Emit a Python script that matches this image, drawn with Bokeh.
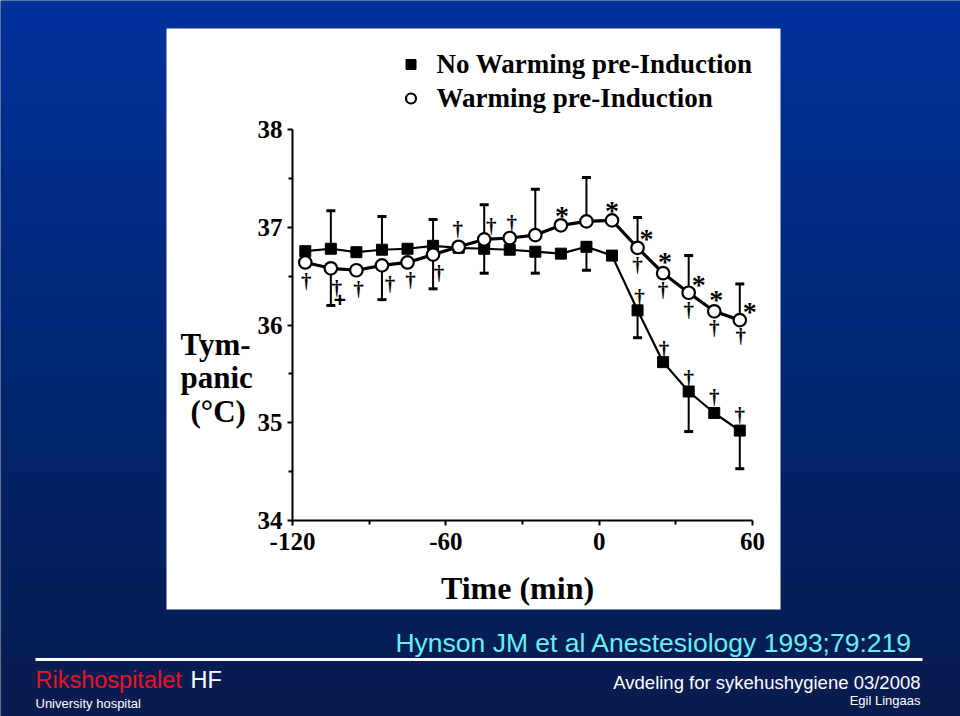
import numpy as np
from bokeh.plotting import figure
from bokeh.models import Range1d, FixedTicker, Legend, LegendItem, ColumnDataSource
from bokeh.core.properties import value
from bokeh.embed import file_html
from bokeh.resources import INLINE

# ---------------- data ----------------
times = [-115, -105, -95, -85, -75, -65, -55, -45, -35, -25, -15, -5, 5, 15, 25, 35, 45, 55]
no_warming = [36.755, 36.78, 36.745, 36.77, 36.78, 36.81, 36.79, 36.78, 36.77, 36.75,
              36.73, 36.80, 36.71, 36.15, 35.62, 35.32, 35.10, 34.92]
warming = [36.64, 36.58, 36.56, 36.61, 36.64, 36.72, 36.80, 36.875, 36.89, 36.92,
           37.02, 37.06, 37.07, 36.79, 36.53, 36.33, 36.14, 36.05]
err_index = [1, 3, 5, 7, 9, 11, 13, 15, 17]
no_warming_err_end = [37.17, 37.11, 37.08, 36.53, 36.53, 36.56, 35.87, 34.91, 34.53]
warming_err_end = [36.20, 36.26, 36.37, 37.23, 37.39, 37.51, 37.10, 36.71, 36.42]

x_ticks = [-120, -60, 0, 60]
x_minor = [-90, -30, 30]
y_ticks = [34, 35, 36, 37, 38]
y_minor = [34.5, 35.5, 36.5, 37.5]

series_names = ["No Warming pre-Induction", "Warming pre-Induction"]
y_title = ["Tym-", "panic", "(°C)"]
x_title = "Time (min)"

# significance marks
sig_series = (["w"] * 11) + ["w"] + (["w"] * 3) + (["w"] * 7) + (["nw"] * 5)
sig_index = [0, 1, 2, 3, 4, 5, 13, 14, 15, 16, 17,
             1,
             6, 7, 8,
             10, 12, 13, 14, 15, 16, 17,
             13, 14, 15, 16, 17]
sig_symbol = (["†"] * 11) + ["+"] + (["†"] * 3) + (["*"] * 7) + (["†"] * 5)

footer_texts = ["Hynson JM et al Anestesiology 1993;79:219", "Rikshospitalet", "HF",
                "University hospital", "Avdeling for sykehushygiene 03/2008", "Egil Lingaas"]

# ---------------- layout constants (page pixels) ----------------
W, H = 960, 716
AX_X, AX_Y = 292, 520          # pixel position of the y axis / x axis
SX, SY = 2.556, 97.75          # px per minute / px per degree
X0, Y0 = -120, 34

def dx(px):
    return X0 + (px - AX_X) / SX

def dy(py):
    return Y0 + (AX_Y - py) / SY

# pixel offsets of the significance marks
sig_dx = [1, 6, 2, 8, 3, 6, 0, 0, 0, 0, 1,
          9,
          -1, 7, 2,
          1, 0, 9, 2, 10, 2, 10,
          2, 1, 0, 0, 0]
sig_dy = [18, 19, 18, 18, 17, 17, 16, 16, 16, 16, 15,
          32,
          -19, -14, -16,
          -13, -13, -12, -15, -11, -15, -12,
          -14, -14, -14, -17, -17]

SERIF = value("Liberation Serif")
SANS = value("Liberation Sans")

p = figure(width=W, height=H, output_backend="svg", toolbar_location=None,
           x_range=Range1d(dx(0), dx(W)), y_range=Range1d(dy(H), dy(0)),
           min_border=0)
p.background_fill_color = "#061a4d"
p.border_fill_color = "#061a4d"
p.outline_line_color = None
p.xgrid.visible = False
p.ygrid.visible = False

# slide background: vertical blue gradient
N = 179
top_c = np.array([0, 49, 156], dtype=float)
mid_c = np.array([0, 37, 111], dtype=float)
bot_c = np.array([8, 27, 78], dtype=float)
img = np.empty((N, 1), dtype=np.uint32)
view = img.view(dtype=np.uint8).reshape((N, 1, 4))
for i in range(N):
    f = 1.0 - i / (N - 1)          # 0 at top, 1 at bottom (row 0 is bottom)
    if f < 0.55:
        c = top_c + (mid_c - top_c) * (f / 0.55)
    else:
        c = mid_c + (bot_c - mid_c) * ((f - 0.55) / 0.45)
    view[i, 0, 0:3] = np.round(c).astype(np.uint8)
    view[i, 0, 3] = 255
p.image_rgba(image=[img], x=dx(0), y=dy(H), dw=dx(W) - dx(0), dh=dy(0) - dy(H))

# white panel
p.quad(left=[dx(166)], right=[dx(780)], top=[dy(28)], bottom=[dy(609)],
       fill_color="white", line_color=None)

# axes drawn at fixed data locations
for ax, ticks, minor, bounds, loc in ((p.xaxis[0], x_ticks, x_minor, (-120, 60), 34),
                                      (p.yaxis[0], y_ticks, y_minor, (34, 38), -120)):
    ax.fixed_location = loc
    ax.ticker = FixedTicker(ticks=ticks, minor_ticks=minor)
    ax.bounds = bounds
    ax.axis_line_width = 2
    ax.axis_line_color = "black"
    ax.major_tick_line_width = 2
    ax.major_tick_line_color = "black"
    ax.major_tick_out = 5
    ax.major_tick_in = 0
    ax.minor_tick_line_width = 2
    ax.minor_tick_line_color = "black"
    ax.minor_tick_out = 4
    ax.minor_tick_in = 0
    ax.major_label_text_font = "Liberation Serif"
    ax.major_label_text_font_style = "bold"
    ax.major_label_text_font_size = "25px"
    ax.major_label_text_color = "black"
p.xaxis[0].major_label_standoff = 7
p.yaxis[0].major_label_standoff = 5
p.xaxis[0].major_label_overrides = {t: str(t) for t in x_ticks}
p.yaxis[0].major_label_overrides = {t: str(t) for t in y_ticks}

# error bars
e_t = [times[i] for i in err_index]
nw_v = [no_warming[i] for i in err_index]
w_v = [warming[i] for i in err_index]
p.segment(x0=e_t, y0=nw_v, x1=e_t, y1=no_warming_err_end, line_color="black", line_width=2)
p.segment(x0=e_t, y0=w_v, x1=e_t, y1=warming_err_end, line_color="black", line_width=2)
p.scatter(e_t, no_warming_err_end, marker="dash", size=9, line_width=3, line_color="black")
p.scatter(e_t, warming_err_end, marker="dash", size=9, line_width=3, line_color="black")

# lines
p.line(times, no_warming, line_color="black", line_width=2.2)
p.line(times, warming, line_color="black", line_width=3.2)

r_nw = p.scatter(times, no_warming, marker="square", size=11, fill_color="black",
                 line_color="black", line_width=1)
r_w = p.scatter(times, warming, marker="circle", size=12.5, fill_color="white",
                line_color="black", line_width=2.2)

# significance marks
def sym_source(sym, extra_dy):
    xs, ys, ox, oy = [], [], [], []
    for s, i, t, ddx, ddy in zip(sig_series, sig_index, sig_symbol, sig_dx, sig_dy):
        if t != sym:
            continue
        xs.append(times[i])
        ys.append(warming[i] if s == "w" else no_warming[i])
        ox.append(ddx)
        oy.append(ddy + extra_dy)
    return ColumnDataSource(dict(x=xs, y=ys, ox=ox, oy=oy, t=[sym] * len(xs)))

p.text(x="x", y="y", text="t", x_offset="ox", y_offset="oy", source=sym_source("†", 1),
       text_font=SERIF, text_font_style="bold", text_font_size="21px",
       text_align="center", text_baseline="middle", text_color="black")
p.text(x="x", y="y", text="t", x_offset="ox", y_offset="oy", source=sym_source("*", 3),
       text_font=SERIF, text_font_style="bold", text_font_size="28px",
       text_align="center", text_baseline="middle", text_color="black")
p.text(x="x", y="y", text="t", x_offset="ox", y_offset="oy", source=sym_source("+", 0),
       text_font=SANS, text_font_style="bold", text_font_size="21px",
       text_align="center", text_baseline="middle", text_color="black")

# legend
legend = Legend(items=[LegendItem(label=series_names[0], renderers=[r_nw]),
                       LegendItem(label=series_names[1], renderers=[r_w])],
                location=(397.5, H - 115), margin=0, padding=0, spacing=0,
                glyph_width=25, glyph_height=34, label_standoff=14,
                label_text_font="Liberation Serif", label_text_font_style="bold",
                label_text_font_size="27px", label_text_color="black",
                background_fill_alpha=0, border_line_alpha=0)
p.add_layout(legend, "center")

# text placed by baseline pixel -> vertical middle of the em box
def put_text(txt, px, base_py, size, font, color, align, style="normal"):
    p.text(x=[dx(px)], y=[dy(base_py - 0.34 * size)], text=[txt], text_font=font,
           text_font_style=style, text_font_size=f"{size}px", text_color=color,
           text_align=align, text_baseline="middle")

# axis titles
for txt, px, py in zip(y_title, [180, 180, 190], [355, 388, 422]):
    put_text(txt, px, py, 31, SERIF, "black", "left", "bold")
put_text(x_title, 517, 598, 32, SERIF, "black", "center", "bold")

# ---------------- footer ----------------
p.segment(x0=[dx(35)], y0=[dy(659)], x1=[dx(922)], y1=[dy(659)], line_color="white", line_width=3)
put_text(footer_texts[0], 912, 652, 26.5, SANS, "#66f0f0", "right")
put_text(footer_texts[1], 35, 687, 23.5, SANS, "#e8141e", "left")
put_text(footer_texts[2], 190, 687, 23.5, SANS, "white", "left")
put_text(footer_texts[3], 35, 707, 13, SANS, "white", "left")
put_text(footer_texts[4], 920, 688, 18.5, SANS, "white", "right")
put_text(footer_texts[5], 920, 704, 13, SANS, "white", "right")

open("out.html", "w").write(file_html(p, INLINE))
